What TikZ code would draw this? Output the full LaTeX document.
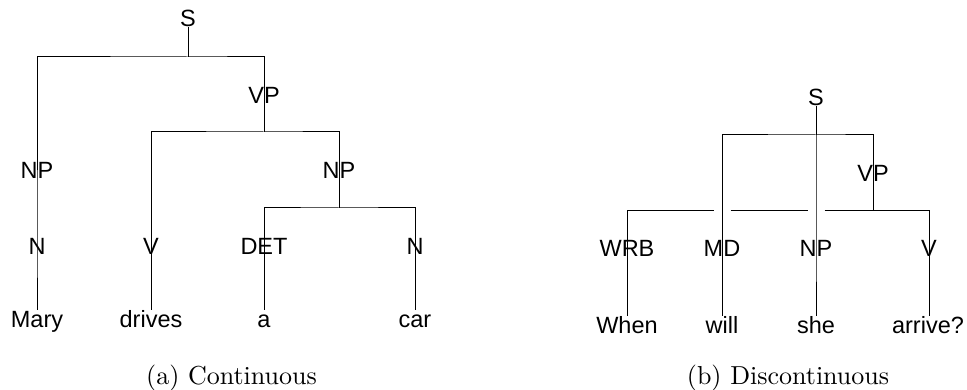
\documentclass[tikz,border=0pt]{standalone}
\usepackage{fontspec}
\usepackage{graphicx}
\newfontfamily\treefont{Liberation Sans}
\usetikzlibrary{calc,backgrounds}
\begin{document}
\begin{tikzpicture}[x=1pt,y=-1pt,
  lab/.style={anchor=base,inner sep=0pt,text height=17pt,text depth=0pt,
    font=\treefont\fontsize{23.5}{28}\selectfont},
  leaf/.style={lab,text height=17pt,text depth=5pt},
  capt/.style={anchor=base,inner sep=0pt,font=\fontsize{10}{12}\selectfont},
  edge/.style={line width=1pt,black}]
\useasboundingbox (0,0) rectangle (967,390);

% ---- (a) continuous tree ----
\node[lab] (lS)   at (188,27)  {S};
\node[lab] (lVP)  at (264,104) {VP};
\node[lab] (lNP)  at (37,179)  {NP};
\node[lab] (lNPb) at (339,179) {NP};
\node[lab] (lN)   at (37,255)  {N};
\node[lab] (lV)   at (151,255) {V};
\node[lab] (lDET) at (264,255) {DET};
\node[lab] (lNb)  at (415,255) {N};
\node[leaf] (lMary)   at (37,327)  {Mary};
\node[leaf] (lDrives) at (151,327) {drives};
\node[leaf] (lA)      at (264,327) {a};
\node[leaf] (lCar)    at (415,327) {car};
\coordinate (lSbar)   at (188,57);
\coordinate (lVPbar)  at (264,132);
\coordinate (lNPbar)  at (339,208);

% ---- (b) discontinuous tree ----
\node[lab] (rS)   at (816,106) {S};
\node[lab] (rVP)  at (873,182) {VP};
\node[lab] (rWRB) at (627,257) {WRB};
\node[lab] (rMD)  at (722,257) {MD};
\node[lab] (rNP)  at (816,257) {NP};
\node[lab] (rV)   at (929,257) {V};
\node[leaf] (rWhen)   at (627,333) {When};
\node[leaf] (rWill)   at (722,333) {will};
\node[leaf] (rShe)    at (816,333) {she};
\node[leaf] (rArrive) at (928,333) {arrive?};
\coordinate (rSbar)  at (816,135);
\coordinate (rVPbar) at (873,211);

% ---- captions ----
\node[capt] (capA) at (231.5,384) {\scalebox{2.6}{(a) Continuous}};
\node[capt] (capB) at (788,384) {\scalebox{2.6}{(b) Discontinuous}};

\begin{scope}[on background layer]
  % (a)
  \draw[edge] (lS.south) -- (lSbar);
  \draw[edge] (lNP.center) |- (lSbar) -| (lVP.center);
  \draw[edge] (lNP.center) -- (lN.center) -- (lMary.north);
  \draw[edge] (lVP.center) -- (lVPbar);
  \draw[edge] (lV.center) |- (lVPbar) -| (lNPb.center);
  \draw[edge] (lV.center) -- (lDrives.north);
  \draw[edge] (lNPb.center) -- (lNPbar);
  \draw[edge] (lDET.center) |- (lNPbar) -| (lNb.center);
  \draw[edge] (lDET.center) -- (lA.north);
  \draw[edge] (lNb.center) -- (lCar.north);
  % (b)
  \draw[edge] (rS.south) -- (rSbar);
  \draw[edge] (rMD.center) |- (rSbar) -| (rVP.center);
  \draw[edge] (rSbar) -- (rNP.center) -- (rShe.north);
  \draw[edge] (rMD.center) -- (rWill.north);
  \draw[edge] (rVP.center) -- (rVPbar);
  \draw[edge] (rWRB.center) |- ($(rMD |- rVPbar)+(-8.5,0)$);
  \draw[edge] ($(rMD |- rVPbar)+(8.5,0)$) -- ($(rNP |- rVPbar)+(-8.5,0)$);
  \draw[edge] ($(rNP |- rVPbar)+(8.5,0)$) -| (rV.center);
  \draw[edge] (rWRB.center) -- (rWhen.north);
  \draw[edge] (rV.center) -- (rV |- rArrive.north);
\end{scope}
\end{tikzpicture}
\end{document}
